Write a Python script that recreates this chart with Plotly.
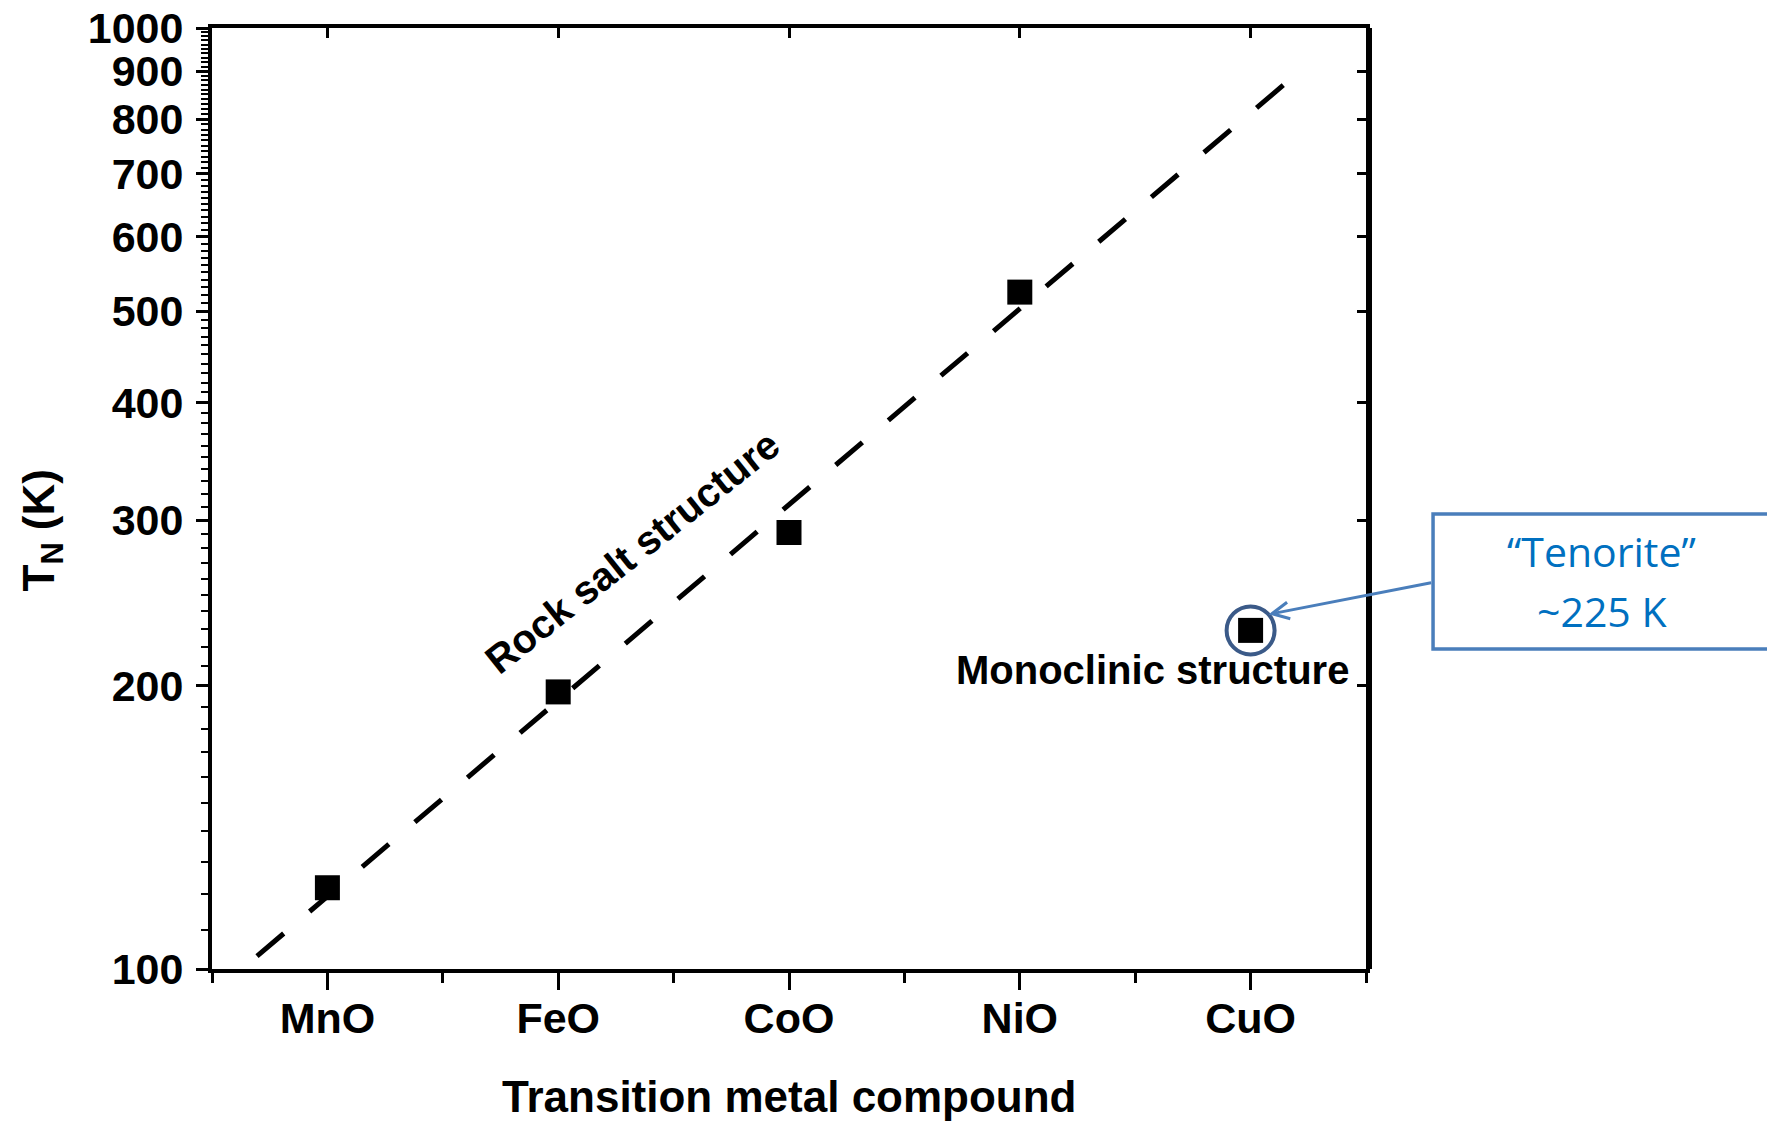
import math
import plotly.graph_objects as go

# ---------------- data ----------------
compounds = ["MnO", "FeO", "CoO", "NiO", "CuO"]
neel_temp_K = [122, 197, 291, 524, 229]

# dashed guide line for the rock-salt series (end points)
rocksalt_fit_x = [-0.305, 4.162]
rocksalt_fit_TN = [103.2, 878]

y_tick_values = [100, 200, 300, 400, 500, 600, 700, 800, 900, 1000]
y_tick_labels = [str(v) for v in y_tick_values]
y_minor_values = [v for v in range(110, 1000, 10) if v % 100 != 0]

x_pos = list(range(len(compounds)))
x_minor_values = [p - 0.5 for p in x_pos] + [x_pos[-1] + 0.5]

rocksalt_label = "Rock salt structure"
monoclinic_label = "Monoclinic structure"
tenorite_lines = ["\u201cTenorite\u201d", "~225 K"]
x_title = "Transition metal compound"
y_title = "T<sub>N</sub> (K)"

# ---------------- style ----------------
FONT = "Liberation Sans, Arial, Helvetica, sans-serif"
W, H = 1767, 1123
ML, MR, MT, MB = 212, 401, 28, 154
BLUE_LINE = "#4A7EBB"
BLUE_TEXT = "#0070C0"
CIRCLE = "#3B5A88"

fig = go.Figure()

fig.add_trace(go.Scatter(
    x=rocksalt_fit_x, y=rocksalt_fit_TN, mode="lines",
    line=dict(color="black", width=5, dash="35px,34px"),
    hoverinfo="skip",
))

fig.add_trace(go.Scatter(
    x=x_pos, y=neel_temp_K, mode="markers",
    marker=dict(symbol="square", size=25, color="black"),
))

# highlight circle around CuO
fig.add_trace(go.Scatter(
    x=[x_pos[4]], y=[neel_temp_K[4]], mode="markers",
    marker=dict(symbol="circle-open", size=48, color=CIRCLE,
                line=dict(color=CIRCLE, width=4)),
    hoverinfo="skip",
))

# invisible trace to activate mirrored (inside-tick) top/right axes
fig.add_trace(go.Scatter(
    x=[x_pos[0]], y=[neel_temp_K[0]], xaxis="x2", yaxis="y2", mode="markers",
    marker=dict(opacity=0), hoverinfo="skip",
))

tickfont = dict(family=FONT, size=43, color="black", weight="bold")

fig.update_layout(
    width=W, height=H,
    margin=dict(l=ML, r=MR, t=MT, b=MB),
    paper_bgcolor="white", plot_bgcolor="white",
    showlegend=False,
    xaxis=dict(
        range=[-0.5, 4.5], tickmode="array", tickvals=x_pos, ticktext=compounds,
        ticks="outside", ticklen=17, tickwidth=3, tickcolor="black",
        showgrid=False, zeroline=False, showline=True, linewidth=4,
        linecolor="black", mirror=True, tickfont=tickfont, automargin=False,
        ticklabelstandoff=-9,
        minor=dict(tickmode="array", tickvals=x_minor_values, ticks="outside",
                   ticklen=10, tickwidth=2.5, tickcolor="black"),
    ),
    yaxis=dict(
        type="log", range=[2, 3], tickmode="array", tickvals=y_tick_values,
        ticktext=y_tick_labels, ticks="outside", ticklen=12, tickwidth=3,
        tickcolor="black", showgrid=False, zeroline=False, showline=True,
        linewidth=4, linecolor="black", mirror=True, tickfont=tickfont,
        ticklabelstandoff=4, automargin=False,
        minor=dict(tickmode="array", tickvals=y_minor_values, ticks="outside",
                   ticklen=7, tickwidth=2, tickcolor="black"),
    ),
    xaxis2=dict(
        overlaying="x", side="top", anchor="y2", range=[-0.5, 4.5],
        tickmode="array", tickvals=x_pos, ticks="inside", ticklen=10,
        tickwidth=3, tickcolor="black", showticklabels=False, showgrid=False,
        zeroline=False, showline=False, automargin=False,
    ),
    yaxis2=dict(
        overlaying="y", side="right", anchor="x2", type="log", range=[2, 3],
        tickmode="array", tickvals=y_tick_values, ticks="inside", ticklen=9,
        tickwidth=3, tickcolor="black", showticklabels=False, showgrid=False,
        zeroline=False, showline=True, linewidth=6, linecolor="black",
        automargin=False,
    ),
)

annotations = [
    dict(x=1.32, y=math.log10(277.5), xref="x", yref="y", text=rocksalt_label,
         showarrow=False, textangle=-38.5,
         font=dict(family=FONT, size=40, color="black", weight="bold")),
    dict(x=3.577, y=math.log10(208), xref="x", yref="y", text=monoclinic_label,
         showarrow=False,
         font=dict(family=FONT, size=40, color="black", weight="bold")),
    # arrow from the label box to the circled CuO point
    dict(x=x_pos[4], y=math.log10(neel_temp_K[4]), xref="x", yref="y",
         xshift=18, yshift=16, text="", showarrow=True, axref="pixel",
         ayref="pixel", ax=164, ay=-32, arrowhead=5, arrowsize=1.1,
         arrowwidth=3, arrowcolor=BLUE_LINE),
    dict(x=1.2045, y=0.4442, xref="paper", yref="paper", text=tenorite_lines[0],
         showarrow=False, xanchor="center", yanchor="middle",
         font=dict(family="Open Sans, Noto Sans, sans-serif", size=41, color=BLUE_TEXT)),
    dict(x=1.2045, y=0.3805, xref="paper", yref="paper", text=tenorite_lines[1],
         showarrow=False, xanchor="center", yanchor="middle",
         font=dict(family="Open Sans, Noto Sans, sans-serif", size=41, color=BLUE_TEXT)),
    dict(x=0.5, y=-0.135, xref="paper", yref="paper", text=x_title,
         showarrow=False, xanchor="center", yanchor="middle",
         font=dict(family=FONT, size=44, color="black", weight="bold")),
    dict(x=-0.1473, y=0.466, xref="paper", yref="paper", text=y_title,
         showarrow=False, xanchor="center", yanchor="middle", textangle=-90,
         font=dict(family=FONT, size=44, color="black", weight="bold")),
]
fig.update_layout(annotations=annotations)

fig.add_shape(type="rect", xref="paper", yref="paper",
              x0=1.0581, x1=1.351, y0=0.3401, y1=0.4835,
              line=dict(color=BLUE_LINE, width=3.5), fillcolor="rgba(0,0,0,0)")

fig.write_html("out.html")
